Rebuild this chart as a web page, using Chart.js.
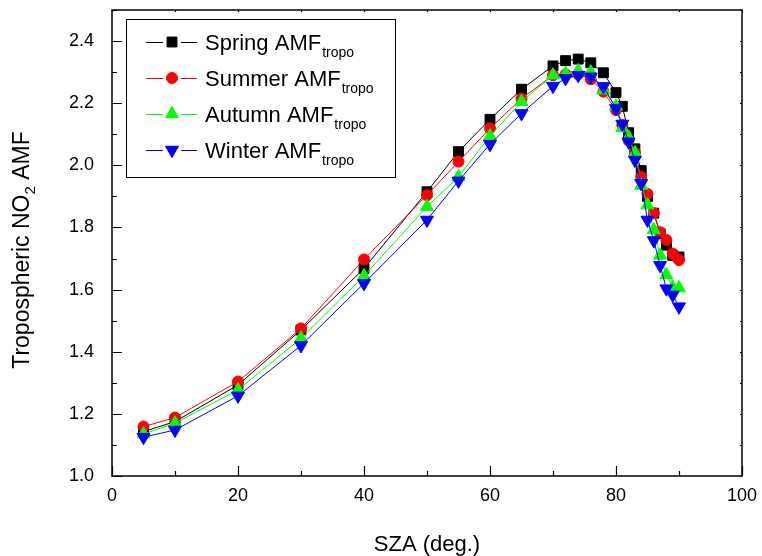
<!DOCTYPE html>
<html>
<head>
<meta charset="utf-8">
<script src="https://cdn.jsdelivr.net/npm/chart.js@4.4.1/dist/chart.umd.min.js"></script>
<style>
  body { margin: 0; background: #fff; }
</style>
</head>
<body>
<canvas id="amfChart" width="762" height="556"></canvas>
<script>
// solar zenith angle (deg.)
var sza = [5, 10, 20, 30, 40, 50, 55, 60, 65, 70, 72, 74, 76, 78, 80, 81, 82, 83, 84, 85, 86, 87, 88, 89, 90];

// tropospheric NO2 AMF per season
var spring = [1.143, 1.175, 1.293, 1.470, 1.668, 1.915, 2.044, 2.148, 2.245, 2.320, 2.337, 2.342, 2.330, 2.298, 2.234, 2.190, 2.105, 2.053, 1.983, 1.900, 1.846, 1.780, 1.743, 1.710, 1.705];
var summer = [1.159, 1.188, 1.304, 1.475, 1.697, 1.904, 2.012, 2.119, 2.215, 2.290, 2.293, 2.293, 2.277, 2.237, 2.178, 2.130, 2.080, 2.040, 1.963, 1.908, 1.846, 1.785, 1.760, 1.716, 1.695];
var autumn = [1.135, 1.170, 1.277, 1.443, 1.644, 1.867, 1.963, 2.094, 2.205, 2.290, 2.295, 2.304, 2.300, 2.242, 2.190, 2.120, 2.090, 2.040, 1.935, 1.872, 1.792, 1.710, 1.647, 1.607, 1.605];
var winter = [1.125, 1.148, 1.258, 1.420, 1.620, 1.824, 1.950, 2.068, 2.167, 2.255, 2.280, 2.290, 2.285, 2.254, 2.183, 2.133, 2.076, 2.017, 1.942, 1.824, 1.758, 1.678, 1.603, 1.583, 1.545];

var seasonNames = ['Spring', 'Summer', 'Autumn', 'Winter'];
var xTicks = [0, 20, 40, 60, 80, 100];
var yTicks = [1.0, 1.2, 1.4, 1.6, 1.8, 2.0, 2.2, 2.4];

var FONT = "'Liberation Sans', Arial, sans-serif";

function pts(ys) {
    return sza.map(function (x, i) { return { x: x, y: ys[i] }; });
}

function series(name, ys, color, style, radius, rot, order) {
    return {
        label: name,
        data: pts(ys),
        showLine: true,
        borderColor: color,
        backgroundColor: color,
        borderWidth: 1,
        pointStyle: style,
        pointRadius: radius,
        pointRotation: rot,
        pointBorderWidth: 1,
        pointBorderColor: color,
        pointBackgroundColor: color,
        order: order
    };
}

var datasets = [
    series(seasonNames[0], spring, '#000000', 'rect', 7, 0, 4),
    series(seasonNames[1], summer, '#ff0000', 'circle', 5.5, 0, 3),
    series(seasonNames[2], autumn, '#00ff00', 'triangle', 7.5, 0, 2),
    series(seasonNames[3], winter, '#0000ff', 'triangle', 7.5, 180, 1)
];

// frame, inward ticks, axis titles and legend box
var decorPlugin = {
    id: 'decor',
    afterDraw: function (chart) {
        var ctx = chart.ctx, a = chart.chartArea;
        var xs = chart.scales.x, ys = chart.scales.y;
        ctx.save();
        ctx.strokeStyle = '#000';
        ctx.lineWidth = 1.5;
        ctx.strokeRect(a.left, a.top, a.right - a.left, a.bottom - a.top);

        ctx.lineWidth = 1.2;
        ctx.beginPath();
        for (var v = 0; v <= 100; v += 10) {
            var px = Math.round(xs.getPixelForValue(v)) + 0.5;
            var len = (v % 20 === 0) ? 10 : 5;
            ctx.moveTo(px, a.bottom); ctx.lineTo(px, a.bottom - len);
            ctx.moveTo(px, a.top); ctx.lineTo(px, a.top + 2);
        }
        for (var k = 0; k <= 15; k++) {
            var py = Math.round(ys.getPixelForValue(1 + k * 0.1)) + 0.5;
            var l2 = (k % 2 === 0) ? 10 : 5;
            ctx.moveTo(a.left, py); ctx.lineTo(a.left + l2, py);
            ctx.moveTo(a.right, py); ctx.lineTo(a.right - 2, py);
        }
        ctx.stroke();

        ctx.fillStyle = '#000';
        ctx.textBaseline = 'alphabetic';

        // x title
        ctx.font = '22px ' + FONT;
        ctx.textAlign = 'center';
        ctx.fillText('SZA (deg.)', 427, 551);

        // y title with subscript
        ctx.save();
        ctx.translate(29, 250);
        ctx.rotate(-Math.PI / 2);
        ctx.textAlign = 'left';
        ctx.font = '23px ' + FONT;
        var p1 = 'Tropospheric NO', p3 = ' AMF';
        var w1 = ctx.measureText(p1).width, w3 = ctx.measureText(p3).width;
        ctx.font = '15px ' + FONT;
        var w2 = ctx.measureText('2').width;
        var x0 = -(w1 + w2 + w3) / 2;
        ctx.font = '23px ' + FONT;
        ctx.fillText(p1, x0, 0);
        ctx.font = '15px ' + FONT;
        ctx.fillText('2', x0 + w1, 6);
        ctx.font = '23px ' + FONT;
        ctx.fillText(p3, x0 + w1 + w2, 0);
        ctx.restore();

        // legend
        var bx = 126, by = 19, bw = 269, bh = 158;
        ctx.fillStyle = '#fff';
        ctx.fillRect(bx, by, bw, bh);
        ctx.lineWidth = 1;
        ctx.strokeStyle = '#000';
        ctx.strokeRect(bx + 0.5, by + 0.5, bw, bh);
        chart.data.datasets.forEach(function (ds, i) {
            var base = 50 + i * 36;
            var cy = base - 8;
            ctx.strokeStyle = ds.borderColor;
            ctx.fillStyle = ds.borderColor;
            ctx.lineWidth = 1;
            ctx.beginPath();
            ctx.moveTo(146, cy + 0.5); ctx.lineTo(163, cy + 0.5);
            ctx.moveTo(181, cy + 0.5); ctx.lineTo(197, cy + 0.5);
            ctx.stroke();
            var opts = { pointStyle: ds.pointStyle, rotation: ds.pointRotation, radius: ds.pointRadius, borderWidth: 1 };
            Chart.helpers.drawPoint(ctx, opts, 172, cy);
            ctx.fillStyle = '#000';
            ctx.textAlign = 'left';
            ctx.font = '22px ' + FONT;
            var txt = ds.label + ' AMF';
            ctx.fillText(txt, 205, base);
            var tw = ctx.measureText(txt).width;
            ctx.font = '14px ' + FONT;
            ctx.fillText('tropo', 205 + tw + 1, base + 7);
        });
        ctx.restore();
    }
};

var ctx = document.getElementById('amfChart').getContext('2d');
var amfChart = new Chart(ctx, {
    type: 'scatter',
    data: { datasets: datasets },
    options: {
        responsive: false,
        animation: false,
        layout: { padding: { left: 0, right: 20, top: 10, bottom: 0 } },
        plugins: {
            legend: { display: false },
            tooltip: { enabled: false }
        },
        scales: {
            x: {
                type: 'linear',
                min: 0,
                max: 100,
                afterFit: function (s) {
                    s.height = 80;
                    s.paddingLeft = 0; s.paddingRight = 0;
                },
                afterBuildTicks: function (s) { s.ticks = xTicks.map(function (v) { return { value: v }; }); },
                grid: { display: false },
                border: { display: false },
                ticks: {
                    color: '#000',
                    padding: 1,
                    maxRotation: 0,
                    font: { family: FONT, size: 18 },
                    callback: function (v) { return String(v); }
                }
            },
            y: {
                type: 'linear',
                min: 1.0,
                max: 2.5,
                afterFit: function (s) {
                    s.width = 112;
                    s.paddingTop = 0; s.paddingBottom = 0;
                },
                afterBuildTicks: function (s) { s.ticks = yTicks.map(function (v) { return { value: v }; }); },
                grid: { display: false },
                border: { display: false },
                ticks: {
                    color: '#000',
                    padding: 10,
                    font: { family: FONT, size: 18 },
                    callback: function (v) { return Number(v).toFixed(1); }
                }
            }
        }
    },
    plugins: [decorPlugin]
});
</script>
</body>
</html>
